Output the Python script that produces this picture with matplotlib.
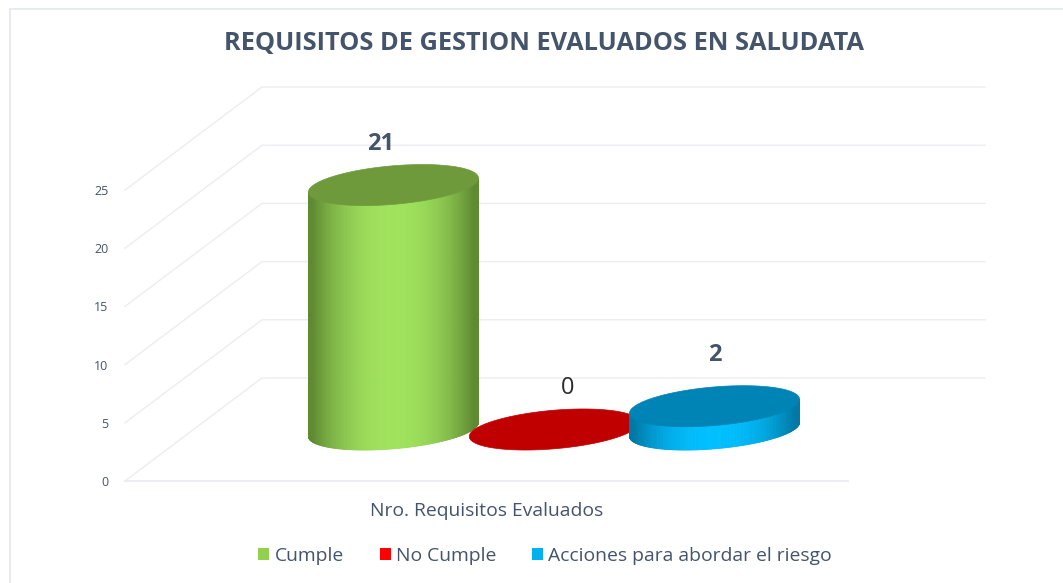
import numpy as np
import matplotlib
matplotlib.use("Agg")
import matplotlib.pyplot as plt
from matplotlib.patches import Patch, Polygon, Rectangle
from matplotlib.collections import PolyCollection
from matplotlib.colors import to_rgb

# ---- data ----
title = "REQUISITOS DE GESTION EVALUADOS EN SALUDATA"
category = ["Nro. Requisitos Evaluados"]
series_names = ["Cumple", "No Cumple", "Acciones para abordar el riesgo"]
series_values = [21, 0, 2]
y_ticks = [0, 5, 10, 15, 20, 25]

# ---- style ----
W, H = 1063, 583
legend_colors = ["#92d050", "#ff0000", "#00b0f0"]
top_colors = ["#6f9a3b", "#c00000", "#0083b5"]
edge_colors = ["#5f8a32", "#a00000", "#0079a6"]
mid_colors = ["#a0e25c", "#e00000", "#00bfff"]
text_color = "#44546a"
grid_color = "#ebedf2"
font = "Open Sans"
bar_offsets = [-0.2235, -0.001, 0.2206]
label_offsets = [(-12.5, 41), (13, 42), (0.5, 51)]   # px from top of cylinder
label_weights = ["bold", "normal", "bold"]
label_colors = [text_color, "#2b2b2b", text_color]

fig = plt.figure(figsize=(W / 100, H / 100), dpi=100, facecolor="white")
ax = fig.add_axes([125 / W, 1 - 481 / H, 723 / W, 291 / H])
ax.set_xlim(-0.5, 0.5)
ax.set_ylim(0, 25)
ax.patch.set_alpha(0)
for s in ax.spines.values():
    s.set_visible(False)

px_x = 1 / 723          # data units per pixel
px_y = 25 / 291
depth_x = 137 * px_x    # floor depth
depth_y = 103 * px_y

# chart frame
fig.add_artist(Rectangle((10 / W, -0.1), 1.2, 1.1 - 9 / H, transform=fig.transFigure,
                         fill=False, ec="#e3e8ef", lw=1.2))

# walls and floor
for v in y_ticks:
    ax.plot([-0.5, -0.5 + depth_x, 0.5 + depth_x], [v, v + depth_y, v + depth_y],
            color=grid_color, lw=1.0, clip_on=False, zorder=1)
ax.plot([-0.5, 0.5], [0, 0], color=grid_color, lw=1.3, clip_on=False, zorder=1)

# axes text
ax.set_yticks(y_ticks)
ax.set_yticklabels([str(v) for v in y_ticks], fontsize=9, color=text_color, family=font)
ax.set_xticks([0])
ax.set_xticklabels(category, fontsize=13.9, color=text_color, family=font)
ax.tick_params(axis="y", length=0, pad=12)
ax.tick_params(axis="x", length=0, pad=15)
fig.text(543.5 / W, 1 - 44 / H, title, ha="center", va="center", fontsize=18.3,
         fontweight="bold", color=text_color, family=font)

# cylinders
A, SLOPE, K = 85 * px_x, 7 * px_y, 19.3 * px_y


def ring(cx, cy, t):
    return cx + A * np.cos(t), cy + SLOPE * np.cos(t) + K * np.sin(t)


def cylinder(x, value, top, edge, mid, z):
    cx = x + depth_x / 2
    base = depth_y / 2
    if value > 0:
        t = np.linspace(np.pi, 2 * np.pi, 171)
        xb, yb = ring(cx, base, t)
        xt, yt = ring(cx, base + value, t)
        e, m = np.array(to_rgb(edge)), np.array(to_rgb(mid))
        verts, cols = [], []
        for i in range(len(t) - 1):
            verts.append([(xb[i], yb[i]), (xb[i + 1], yb[i + 1]),
                          (xt[i + 1], yt[i + 1]), (xt[i], yt[i])])
            f = (0.5 * (xb[i] + xb[i + 1]) - cx) / A
            w = min(1.0, abs(f) / 0.95) ** 2.2
            cols.append(m * (1 - w) + e * w)
        ax.add_collection(PolyCollection(verts, facecolors=cols, edgecolors=cols, lw=0.6,
                                         clip_on=False, zorder=z))
    t = np.linspace(0, 2 * np.pi, 241)
    xt, yt = ring(cx, base + value, t)
    ax.add_patch(Polygon(np.column_stack([xt, yt]), closed=True, fc=top, ec=top, lw=0.5,
                         clip_on=False, zorder=z + 0.5))
    return cx, base + value


for i, (off, val) in enumerate(zip(bar_offsets, series_values)):
    cx, cy = cylinder(off, val, top_colors[i], edge_colors[i], mid_colors[i], 3 + i)
    dx, dy = label_offsets[i]
    ax.annotate(str(val), (cx, cy), xytext=(dx * 0.72, dy * 0.72), textcoords="offset points",
                ha="center", va="center", fontsize=17, fontweight=label_weights[i],
                color=label_colors[i], family=font, zorder=10, annotation_clip=False)

# legend
handles = [Patch(fc=c, ec="none", label=n) for c, n in zip(legend_colors, series_names)]
leg = fig.legend(handles=handles, loc="center", bbox_to_anchor=(545 / W, 1 - 556 / H),
                 ncol=3, frameon=False, handlelength=0.57, handleheight=0.57,
                 handletextpad=0.26, columnspacing=1.86,
                 prop={"family": font, "size": 13.9})
for txt in leg.get_texts():
    txt.set_color(text_color)

fig.savefig("out.png", dpi=100)
